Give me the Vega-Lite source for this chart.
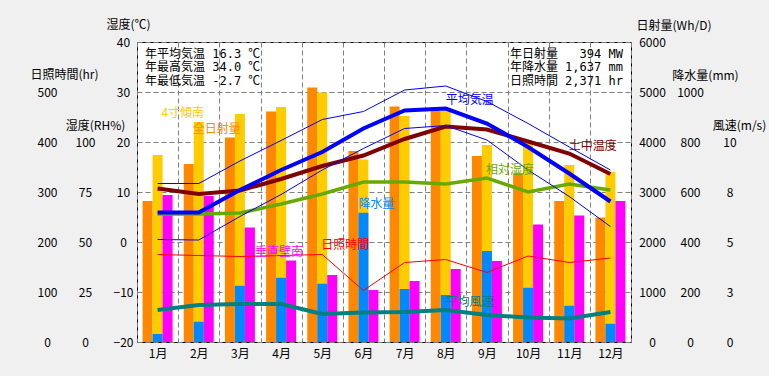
{
  "$schema": "https://vega.github.io/schema/vega-lite/v6.json",
  "width": 494,
  "height": 300,
  "autosize": {"type": "none"},
  "padding": {"left": 137, "top": 42, "right": 138, "bottom": 34},
  "background": "#f0f0f0",
  "config": {
    "view": {"fill": "white", "stroke": "black", "strokeWidth": 1},
    "font": "Noto Sans CJK JP",
    "axis": {"labelFont": "Noto Sans CJK JP", "labelFontSize": 12, "labelColor": "#000000", "titleFont": "Noto Sans CJK JP", "titleFontSize": 12, "titleFontWeight": "normal", "titleColor": "#000000", "domain": false, "ticks": false, "tickSize": 0},
    "axisX": {"grid": true, "gridDash": [5, 3], "gridColor": "#808080", "gridOpacity": 1, "tickBand": "extent", "labelPadding": 6, "labelAngle": 0},
    "axisY": {"grid": false},
    "text": {"font": "Noto Sans CJK JP", "fontSize": 12}
  },
  "datasets": {
    "monthly": [
      {"month": "1月", "solarAll": 2820, "tilt4S": 3740, "wallS": 2940, "precip": 32, "tavg": 5.9, "tmax": 11.7, "tmin": 0.5, "soil": 10.7, "rh": 64, "sun": 175, "wind": 1.6},
      {"month": "2月", "solarAll": 3560, "tilt4S": 4400, "wallS": 2920, "precip": 81, "tavg": 5.9, "tmax": 11.7, "tmin": 0.4, "soil": 9.6, "rh": 64, "sun": 173, "wind": 1.85},
      {"month": "3月", "solarAll": 4090, "tilt4S": 4560, "wallS": 2290, "precip": 225, "tavg": 10.4, "tmax": 16.2, "tmin": 5.1, "soil": 10.3, "rh": 64.5, "sun": 171, "wind": 1.9},
      {"month": "4月", "solarAll": 4610, "tilt4S": 4700, "wallS": 1630, "precip": 257, "tavg": 14.4, "tmax": 20.3, "tmin": 9.5, "soil": 12.6, "rh": 69, "sun": 173, "wind": 1.9},
      {"month": "5月", "solarAll": 5090, "tilt4S": 4990, "wallS": 1340, "precip": 233, "tavg": 18.0, "tmax": 24.5, "tmin": 14.4, "soil": 15.2, "rh": 74, "sun": 175, "wind": 1.4},
      {"month": "6月", "solarAll": 3820, "tilt4S": 3650, "wallS": 1040, "precip": 517, "tavg": 22.7, "tmax": 26.1, "tmin": 18.7, "soil": 17.3, "rh": 80, "sun": 103, "wind": 1.47},
      {"month": "7月", "solarAll": 4710, "tilt4S": 4520, "wallS": 1220, "precip": 212, "tavg": 26.3, "tmax": 30.4, "tmin": 22.7, "soil": 20.6, "rh": 80, "sun": 159, "wind": 1.5},
      {"month": "8月", "solarAll": 4690, "tilt4S": 4660, "wallS": 1460, "precip": 188, "tavg": 26.7, "tmax": 31.2, "tmin": 23.3, "soil": 23.1, "rh": 79, "sun": 165, "wind": 1.6},
      {"month": "9月", "solarAll": 3720, "tilt4S": 3940, "wallS": 1620, "precip": 364, "tavg": 23.7, "tmax": 28.1, "tmin": 20.4, "soil": 22.5, "rh": 82, "sun": 139, "wind": 1.35},
      {"month": "10月", "solarAll": 3380, "tilt4S": 4010, "wallS": 2350, "precip": 217, "tavg": 19.0, "tmax": 23.7, "tmin": 14.4, "soil": 20.1, "rh": 75, "sun": 172, "wind": 1.22},
      {"month": "11月", "solarAll": 2820, "tilt4S": 3540, "wallS": 2530, "precip": 145, "tavg": 13.7, "tmax": 19.0, "tmin": 9.1, "soil": 17.7, "rh": 79, "sun": 159, "wind": 1.18},
      {"month": "12月", "solarAll": 2490, "tilt4S": 3400, "wallS": 2820, "precip": 73, "tavg": 8.1, "tmax": 14.4, "tmin": 3.1, "soil": 13.6, "rh": 76, "sun": 168, "wind": 1.5}
    ],
    "stats": [
      {"block": "L", "text": "年平均気温\u00a016.3\u00a0℃\n年最高気温\u00a034.0\u00a0℃\n年最低気温\u00a0-2.7\u00a0℃"},
      {"block": "R", "text": "年日射量\u00a0\u00a0\u00a0394\u00a0MW\n年降水量\u00a01,637\u00a0mm\n日照時間\u00a02,371\u00a0hr"}
    ],
    "labels": [
      {"label": "4寸傾南"}, {"label": "全日射量"}, {"label": "垂直壁南"}, {"label": "日照時間"}, {"label": "降水量"},
      {"label": "平均気温"}, {"label": "土中温度"}, {"label": "相対湿度"}, {"label": "平均風速"}
    ]
  },
  "data": {"name": "monthly"},
  "resolve": {"scale": {"y": "independent"}},
  "layer": [
    {
      "transform": [{"fold": ["solarAll", "tilt4S", "wallS"], "as": ["kind", "val"]}],
      "mark": {"type": "bar"},
      "encoding": {
        "x": {"field": "month", "type": "ordinal", "sort": null, "title": null, "scale": {"type": "band", "domain": ["1月","2月","3月","4月","5月","6月","7月","8月","9月","10月","11月","12月"], "paddingInner": 0, "paddingOuter": 0}},
        "xOffset": {"field": "kind", "type": "nominal", "scale": {"domain": ["solarAll", "tilt4S", "wallS"], "paddingInner": 0, "paddingOuter": 0.56}},
        "y": {"field": "val", "type": "quantitative", "scale": {"domain": [0, 6000], "nice": false},
              "axis": {"orient": "right", "values": [0, 1000, 2000, 3000, 4000, 5000, 6000], "format": "d", "labelAlign": "center", "labelBaseline": "middle", "labelPadding": 21, "title": "日射量(Wh/D)", "titleAngle": 0, "titleX": 42.5, "titleY": -17, "titleAlign": "center", "titleBaseline": "middle"}},
        "color": {"field": "kind", "type": "nominal", "scale": {"domain": ["solarAll", "tilt4S", "wallS"], "range": ["#FF8800", "#FFCC00", "#FF00FF"]}, "legend": null}
      }
    },
    {
      "mark": {"type": "bar", "color": "#0088FF", "width": 10},
      "encoding": {
        "x": {"field": "month", "type": "ordinal", "sort": null, "title": null, "scale": {"type": "band", "domain": ["1月","2月","3月","4月","5月","6月","7月","8月","9月","10月","11月","12月"], "paddingInner": 0, "paddingOuter": 0}},
        "y": {"field": "precip", "type": "quantitative", "scale": {"domain": [0, 1200], "nice": false},
              "axis": {"orient": "right", "values": [0, 200, 400, 600, 800, 1000], "format": "d", "labelAlign": "center", "labelBaseline": "middle", "labelPadding": 59, "title": "降水量(mm)", "titleAngle": 0, "titleX": 74, "titleY": 33, "titleAlign": "center", "titleBaseline": "middle"}}
      }
    },
    {
      "mark": {"type": "line", "color": "#FF0000", "strokeWidth": 1},
      "encoding": {
        "x": {"field": "month", "type": "ordinal", "sort": null, "title": null, "scale": {"type": "band", "domain": ["1月","2月","3月","4月","5月","6月","7月","8月","9月","10月","11月","12月"], "paddingInner": 0, "paddingOuter": 0}},
        "y": {"field": "sun", "type": "quantitative", "scale": {"domain": [0, 600], "nice": false},
              "axis": {"orient": "left", "values": [0, 100, 200, 300, 400, 500], "format": "d", "labelAlign": "center", "labelBaseline": "middle", "labelPadding": 90, "title": "日照時間(hr)", "titleAngle": 0, "titleX": -73, "titleY": 32, "titleAlign": "center", "titleBaseline": "middle"}}
      }
    },
    {
      "mark": {"type": "line", "color": "#008080", "strokeWidth": 4},
      "encoding": {
        "x": {"field": "month", "type": "ordinal", "sort": null, "title": null, "scale": {"type": "band", "domain": ["1月","2月","3月","4月","5月","6月","7月","8月","9月","10月","11月","12月"], "paddingInner": 0, "paddingOuter": 0}},
        "y": {"field": "wind", "type": "quantitative", "scale": {"domain": [0, 15], "nice": false},
              "axis": {"orient": "right", "values": [0, 2.5, 5, 7.5, 10], "labelExpr": "format(round(datum.value), 'd')", "labelAlign": "center", "labelBaseline": "middle", "labelPadding": 98.5, "title": "風速(m/s)", "titleAngle": 0, "titleX": 108, "titleY": 83, "titleAlign": "center", "titleBaseline": "middle"}}
      }
    },
    {
      "mark": {"type": "line", "color": "#66AA00", "strokeWidth": 3.5},
      "encoding": {
        "x": {"field": "month", "type": "ordinal", "sort": null, "title": null, "scale": {"type": "band", "domain": ["1月","2月","3月","4月","5月","6月","7月","8月","9月","10月","11月","12月"], "paddingInner": 0, "paddingOuter": 0}},
        "y": {"field": "rh", "type": "quantitative", "scale": {"domain": [0, 150], "nice": false},
              "axis": {"orient": "left", "values": [0, 25, 50, 75, 100], "format": "d", "labelAlign": "center", "labelBaseline": "middle", "labelPadding": 52, "title": "湿度(RH%)", "titleAngle": 0, "titleX": -42, "titleY": 83, "titleAlign": "center", "titleBaseline": "middle"}}
      }
    },
    {
      "mark": {"type": "line", "color": "#800000", "strokeWidth": 4},
      "encoding": {
        "x": {"field": "month", "type": "ordinal", "sort": null, "title": null, "scale": {"type": "band", "domain": ["1月","2月","3月","4月","5月","6月","7月","8月","9月","10月","11月","12月"], "paddingInner": 0, "paddingOuter": 0}},
        "y": {"field": "soil", "type": "quantitative", "scale": {"domain": [-20, 40], "nice": false}, "axis": null}
      }
    },
    {
      "mark": {"type": "line", "color": "#0000FF", "strokeWidth": 1},
      "encoding": {
        "x": {"field": "month", "type": "ordinal", "sort": null, "title": null, "scale": {"type": "band", "domain": ["1月","2月","3月","4月","5月","6月","7月","8月","9月","10月","11月","12月"], "paddingInner": 0, "paddingOuter": 0}},
        "y": {"field": "tmax", "type": "quantitative", "scale": {"domain": [-20, 40], "nice": false}, "axis": null}
      }
    },
    {
      "mark": {"type": "line", "color": "#0000FF", "strokeWidth": 1},
      "encoding": {
        "x": {"field": "month", "type": "ordinal", "sort": null, "title": null, "scale": {"type": "band", "domain": ["1月","2月","3月","4月","5月","6月","7月","8月","9月","10月","11月","12月"], "paddingInner": 0, "paddingOuter": 0}},
        "y": {"field": "tmin", "type": "quantitative", "scale": {"domain": [-20, 40], "nice": false}, "axis": null}
      }
    },
    {
      "mark": {"type": "line", "color": "#0000FF", "strokeWidth": 4},
      "encoding": {
        "x": {"field": "month", "type": "ordinal", "sort": null, "title": null, "scale": {"type": "band", "domain": ["1月","2月","3月","4月","5月","6月","7月","8月","9月","10月","11月","12月"], "paddingInner": 0, "paddingOuter": 0}},
        "y": {"field": "tavg", "type": "quantitative", "scale": {"domain": [-20, 40], "nice": false},
              "axis": {"orient": "left", "values": [-20, -10, 0, 10, 20, 30, 40], "format": "d", "grid": true, "gridDash": [5, 3], "gridColor": "#808080", "gridOpacity": 1, "labelAlign": "center", "labelBaseline": "middle", "labelPadding": 14, "title": "湿度(℃)", "titleAngle": 0, "titleX": -9, "titleY": -18, "titleAlign": "center", "titleBaseline": "middle"}}
      }
    },
    {
      "data": {"name": "stats"},
      "transform": [{"filter": "datum.block === 'L'"}],
      "mark": {"type": "text", "align": "left", "baseline": "top", "lineBreak": "\n", "lineHeight": 13.5, "font": "DejaVu Sans Mono, Noto Sans CJK JP", "fontSize": 12, "color": "#000000", "dx": -12.6},
      "encoding": {
        "x": {"datum": "1月", "type": "ordinal", "scale": {"type": "band", "domain": ["1月","2月","3月","4月","5月","6月","7月","8月","9月","10月","11月","12月"], "paddingInner": 0, "paddingOuter": 0}},
        "y": {"datum": 38.7, "type": "quantitative", "scale": {"domain": [-20, 40], "nice": false}, "axis": null},
        "text": {"field": "text", "type": "nominal"}
      }
    },
    {
      "data": {"name": "stats"},
      "transform": [{"filter": "datum.block === 'R'"}],
      "mark": {"type": "text", "align": "left", "baseline": "top", "lineBreak": "\n", "lineHeight": 13.5, "font": "DejaVu Sans Mono, Noto Sans CJK JP", "fontSize": 12, "color": "#000000", "dx": -18.2},
      "encoding": {
        "x": {"datum": "10月", "type": "ordinal", "scale": {"type": "band", "domain": ["1月","2月","3月","4月","5月","6月","7月","8月","9月","10月","11月","12月"], "paddingInner": 0, "paddingOuter": 0}},
        "y": {"datum": 38.7, "type": "quantitative", "scale": {"domain": [-20, 40], "nice": false}, "axis": null},
        "text": {"field": "text", "type": "nominal"}
      }
    },
    {
      "data": {"name": "labels"},
      "transform": [{"filter": "datum.label === '4寸傾南'"}],
      "mark": {"type": "text", "color": "#FFCC00", "baseline": "middle", "dx": -16},
      "encoding": {
        "x": {"datum": "2月", "type": "ordinal", "scale": {"type": "band", "domain": ["1月","2月","3月","4月","5月","6月","7月","8月","9月","10月","11月","12月"], "paddingInner": 0, "paddingOuter": 0}},
        "y": {"datum": 25.8, "type": "quantitative", "scale": {"domain": [-20, 40], "nice": false}, "axis": null},
        "text": {"field": "label", "type": "nominal"}
      }
    },
    {
      "data": {"name": "labels"},
      "transform": [{"filter": "datum.label === '全日射量'"}],
      "mark": {"type": "text", "color": "#FF8800", "baseline": "middle", "dx": 18},
      "encoding": {
        "x": {"datum": "2月", "type": "ordinal", "scale": {"type": "band", "domain": ["1月","2月","3月","4月","5月","6月","7月","8月","9月","10月","11月","12月"], "paddingInner": 0, "paddingOuter": 0}},
        "y": {"datum": 22.6, "type": "quantitative", "scale": {"domain": [-20, 40], "nice": false}, "axis": null},
        "text": {"field": "label", "type": "nominal"}
      }
    },
    {
      "data": {"name": "labels"},
      "transform": [{"filter": "datum.label === '垂直壁南'"}],
      "mark": {"type": "text", "color": "#FF00FF", "baseline": "middle", "dx": -2},
      "encoding": {
        "x": {"datum": "4月", "type": "ordinal", "scale": {"type": "band", "domain": ["1月","2月","3月","4月","5月","6月","7月","8月","9月","10月","11月","12月"], "paddingInner": 0, "paddingOuter": 0}},
        "y": {"datum": -2, "type": "quantitative", "scale": {"domain": [-20, 40], "nice": false}, "axis": null},
        "text": {"field": "label", "type": "nominal"}
      }
    },
    {
      "data": {"name": "labels"},
      "transform": [{"filter": "datum.label === '日照時間'"}],
      "mark": {"type": "text", "color": "#FF0000", "baseline": "middle", "dx": 23},
      "encoding": {
        "x": {"datum": "5月", "type": "ordinal", "scale": {"type": "band", "domain": ["1月","2月","3月","4月","5月","6月","7月","8月","9月","10月","11月","12月"], "paddingInner": 0, "paddingOuter": 0}},
        "y": {"datum": -0.6, "type": "quantitative", "scale": {"domain": [-20, 40], "nice": false}, "axis": null},
        "text": {"field": "label", "type": "nominal"}
      }
    },
    {
      "data": {"name": "labels"},
      "transform": [{"filter": "datum.label === '降水量'"}],
      "mark": {"type": "text", "color": "#0088FF", "baseline": "middle", "dx": 13},
      "encoding": {
        "x": {"datum": "6月", "type": "ordinal", "scale": {"type": "band", "domain": ["1月","2月","3月","4月","5月","6月","7月","8月","9月","10月","11月","12月"], "paddingInner": 0, "paddingOuter": 0}},
        "y": {"datum": 7.6, "type": "quantitative", "scale": {"domain": [-20, 40], "nice": false}, "axis": null},
        "text": {"field": "label", "type": "nominal"}
      }
    },
    {
      "data": {"name": "labels"},
      "transform": [{"filter": "datum.label === '平均気温'"}],
      "mark": {"type": "text", "color": "#0000FF", "baseline": "middle", "dx": 24},
      "encoding": {
        "x": {"datum": "8月", "type": "ordinal", "scale": {"type": "band", "domain": ["1月","2月","3月","4月","5月","6月","7月","8月","9月","10月","11月","12月"], "paddingInner": 0, "paddingOuter": 0}},
        "y": {"datum": 28.4, "type": "quantitative", "scale": {"domain": [-20, 40], "nice": false}, "axis": null},
        "text": {"field": "label", "type": "nominal"}
      }
    },
    {
      "data": {"name": "labels"},
      "transform": [{"filter": "datum.label === '土中温度'"}],
      "mark": {"type": "text", "color": "#800000", "baseline": "middle", "dx": 23.4},
      "encoding": {
        "x": {"datum": "11月", "type": "ordinal", "scale": {"type": "band", "domain": ["1月","2月","3月","4月","5月","6月","7月","8月","9月","10月","11月","12月"], "paddingInner": 0, "paddingOuter": 0}},
        "y": {"datum": 19.2, "type": "quantitative", "scale": {"domain": [-20, 40], "nice": false}, "axis": null},
        "text": {"field": "label", "type": "nominal"}
      }
    },
    {
      "data": {"name": "labels"},
      "transform": [{"filter": "datum.label === '相対湿度'"}],
      "mark": {"type": "text", "color": "#66AA00", "baseline": "middle", "dx": -18},
      "encoding": {
        "x": {"datum": "10月", "type": "ordinal", "scale": {"type": "band", "domain": ["1月","2月","3月","4月","5月","6月","7月","8月","9月","10月","11月","12月"], "paddingInner": 0, "paddingOuter": 0}},
        "y": {"datum": 14.5, "type": "quantitative", "scale": {"domain": [-20, 40], "nice": false}, "axis": null},
        "text": {"field": "label", "type": "nominal"}
      }
    },
    {
      "data": {"name": "labels"},
      "transform": [{"filter": "datum.label === '平均風速'"}],
      "mark": {"type": "text", "color": "#008080", "baseline": "middle", "dx": 23.7},
      "encoding": {
        "x": {"datum": "8月", "type": "ordinal", "scale": {"type": "band", "domain": ["1月","2月","3月","4月","5月","6月","7月","8月","9月","10月","11月","12月"], "paddingInner": 0, "paddingOuter": 0}},
        "y": {"datum": -11.9, "type": "quantitative", "scale": {"domain": [-20, 40], "nice": false}, "axis": null},
        "text": {"field": "label", "type": "nominal"}
      }
    }
  ]
}
